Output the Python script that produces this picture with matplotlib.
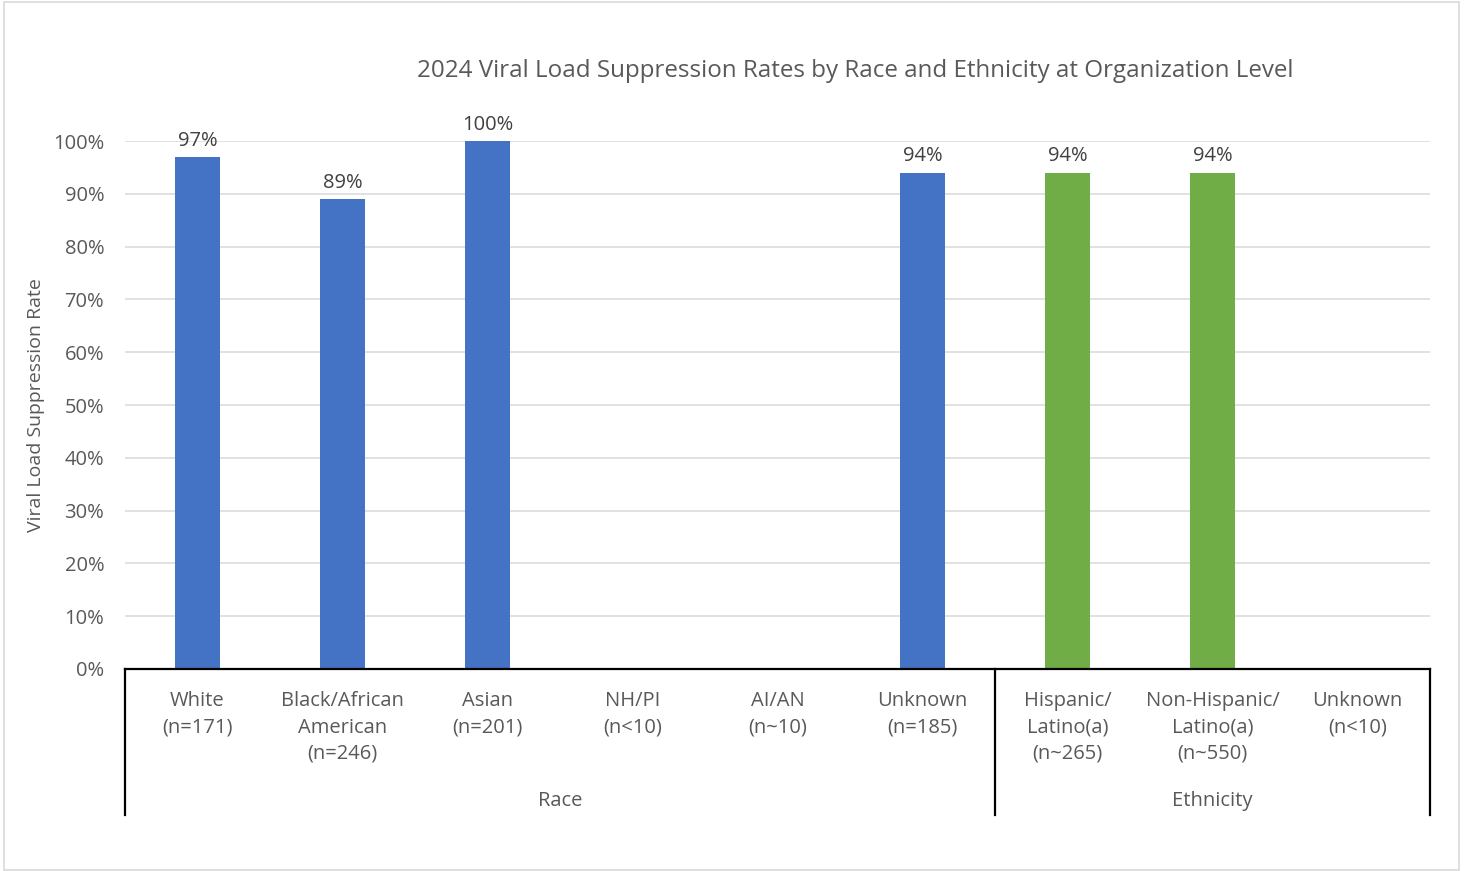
import numpy as np
import matplotlib
matplotlib.use("Agg")
import matplotlib.pyplot as plt
from matplotlib.patches import Rectangle

plt.rcParams['font.family'] = ['Open Sans', 'DejaVu Sans']

categories = ["White\n(n=171)", "Black/African\nAmerican\n(n=246)", "Asian\n(n=201)",
              "NH/PI\n(n<10)", "AI/AN\n(n~10)", "Unknown\n(n=185)",
              "Hispanic/\nLatino(a)\n(n~265)", "Non-Hispanic/\nLatino(a)\n(n~550)", "Unknown\n(n<10)"]
values = [0.97, 0.89, 1.00, None, None, 0.94, 0.94, 0.94, None]
groups = ["Race", "Race", "Race", "Race", "Race", "Race", "Ethnicity", "Ethnicity", "Ethnicity"]
group_colors = {"Race": "#4472C4", "Ethnicity": "#70AD47"}

fig = plt.figure(figsize=(14.68, 8.71), dpi=100)
fig.patches.append(Rectangle((0.003, 0.001), 0.991, 0.997, transform=fig.transFigure,
                             fill=False, edgecolor="#d9d9d9", lw=1.2))
ax = fig.add_axes([125/1468, 1-669/871, (1430-125)/1468, (669-141)/871])

x = np.arange(len(categories))
vals = np.array([np.nan if v is None else v for v in values])
cols = [group_colors[g] for g in groups]
ax.bar(x, np.nan_to_num(vals), width=0.31, color=cols, zorder=3)
for xi, v in zip(x, vals):
    if not np.isnan(v):
        ax.text(xi, v + 0.012, f"{v*100:.0f}%", ha='center', va='bottom',
                fontsize=14.5, color="#404040")

ax.set_xlim(-0.5, len(categories) - 0.5)
ax.set_ylim(0, 1.0)
ax.set_yticks(np.arange(0, 1.01, 0.1))
ax.set_yticklabels([f"{int(round(t*100))}%" for t in np.arange(0, 1.01, 0.1)])
ax.yaxis.grid(True, color="#d9d9d9", lw=1.1, zorder=0)
ax.set_axisbelow(True)
for s in ['top', 'right', 'left']:
    ax.spines[s].set_visible(False)
ax.spines['bottom'].set_color('black')
ax.spines['bottom'].set_linewidth(1.6)
ax.spines['bottom'].set_zorder(4)
ax.tick_params(axis='y', length=0, labelsize=14.5, labelcolor="#595959", pad=15)
ax.set_xticks(x)
ax.set_xticklabels(categories, fontsize=14.5, color="#595959", linespacing=1.42)
ax.tick_params(axis='x', length=0, pad=16)

ax.set_ylabel("Viral Load Suppression Rate", fontsize=14, color="#595959")
ax.yaxis.set_label_coords(-0.061, 0.5)

# group separators and labels
ylow = -(815 - 669) / 528
for xb in [-0.5, 5.5, 8.5]:
    ax.plot([xb, xb], [0, ylow], color='black', lw=1.6, clip_on=False,
            transform=ax.get_xaxis_transform())
glabel_y = -(801 - 669) / 528
ax.text(2.5, glabel_y, "Race", ha='center', va='center', fontsize=14.5, color="#595959",
        transform=ax.get_xaxis_transform())
ax.text(7.0, glabel_y, "Ethnicity", ha='center', va='center', fontsize=14.5, color="#595959",
        transform=ax.get_xaxis_transform())

fig.text(855/1468, 1 - 71/871, "2024 Viral Load Suppression Rates by Race and Ethnicity at Organization Level",
         ha='center', va='center', fontsize=17.4, color="#595959")

fig.savefig("out.png", dpi=100)
